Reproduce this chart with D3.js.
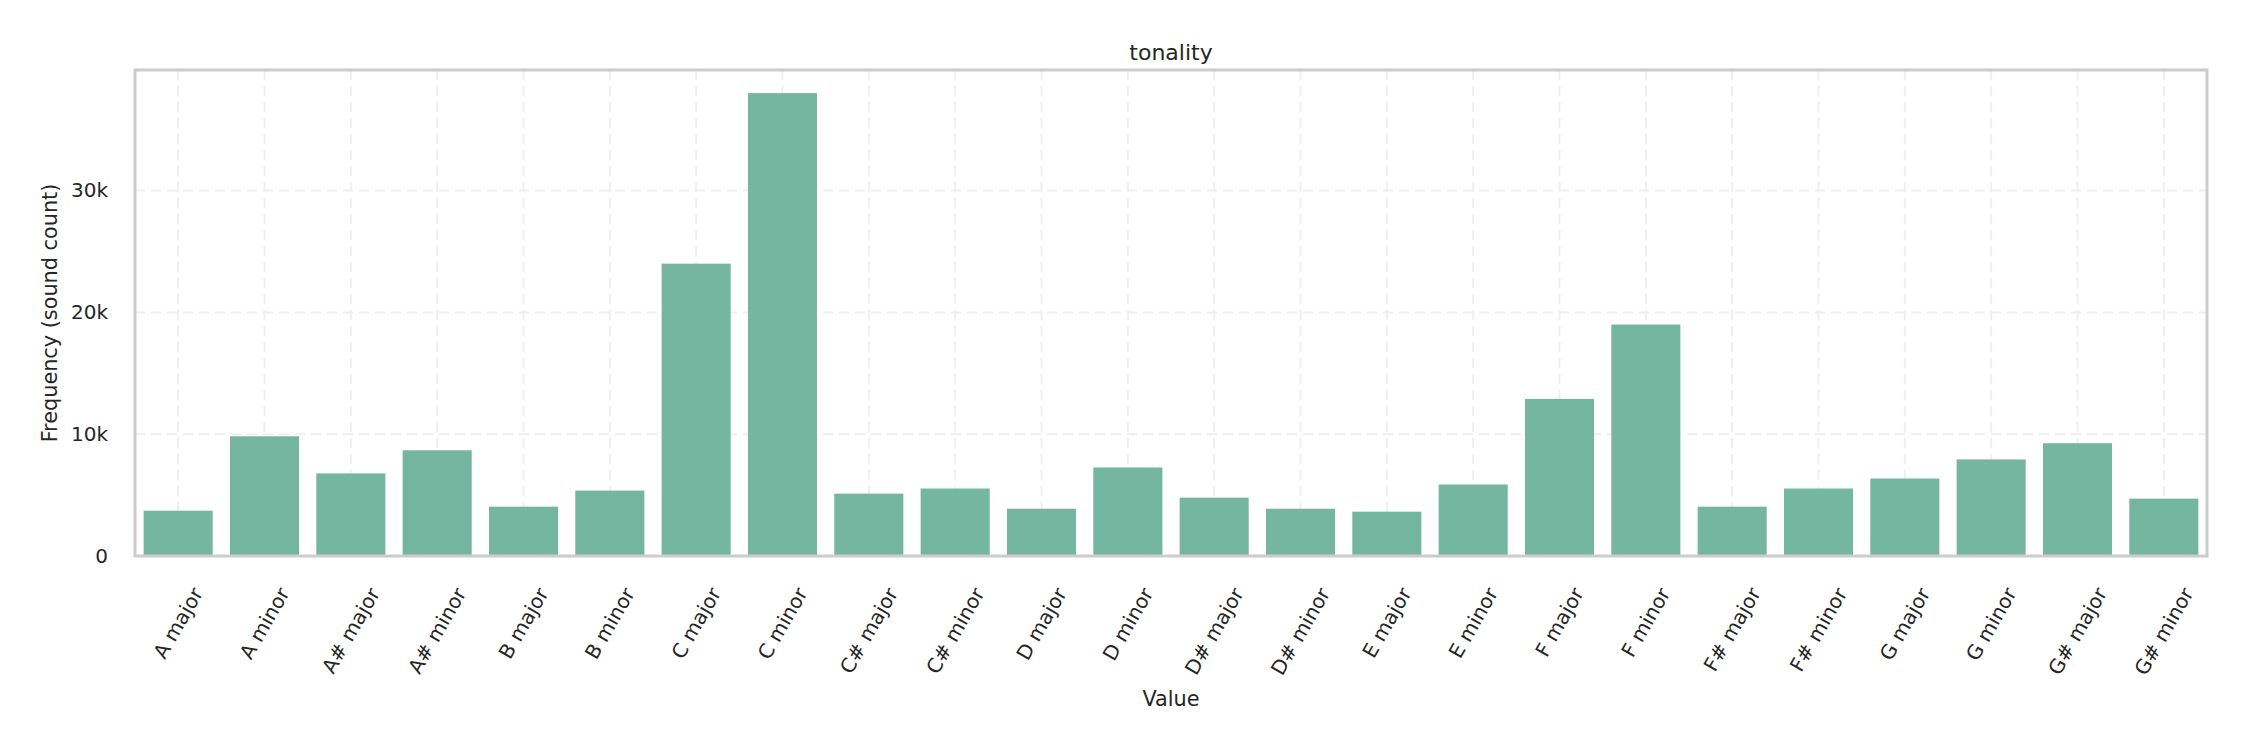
<!DOCTYPE html>
<html>
<head>
<meta charset="utf-8">
<script src="https://cdn.jsdelivr.net/npm/d3@7"></script>
<style>
  body { margin: 0; background: #fff; }
  text { font-family: 'DejaVu Sans', sans-serif; fill: #262626; }
</style>
</head>
<body>
<div class="canvas-bar"></div>
<script>
const categories = [
  'A major', 'A minor', 'A# major', 'A# minor', 'B major', 'B minor',
  'C major', 'C minor', 'C# major', 'C# minor', 'D major', 'D minor',
  'D# major', 'D# minor', 'E major', 'E minor', 'F major', 'F minor',
  'F# major', 'F# minor', 'G major', 'G minor', 'G# major', 'G# minor'
];
const counts = [
  3720, 9830, 6780, 8680, 4050, 5370,
  24000, 38000, 5120, 5540, 3880, 7270,
  4790, 3880, 3640, 5870, 12900, 19000,
  4050, 5540, 6360, 7930, 9260, 4710
];
const yTicks = [0, 10000, 20000, 30000];
const yTickLabels = ['0', '10k', '20k', '30k'];

const margin = { top: 70, right: 43, bottom: 194, left: 135 };
const graphWidth = 2250 - margin.left - margin.right;
const graphHeight = 750 - margin.top - margin.bottom;
const barColor = '#75b6a1';
const gridColor = '#efefef';
const frameColor = '#cccccc';

const data = categories.map((c, i) => ({ key: c, value: counts[i] }));

const svg = d3
  .select('.canvas-bar')
  .append('svg')
  .attr('width', 2250)
  .attr('height', 750);

const graph = svg.append('g').attr('transform', `translate(${margin.left}, ${margin.top})`);

const x = d3.scaleBand().domain(categories).range([0, graphWidth]).paddingInner(0.2).paddingOuter(0.1);
const y = d3.scaleLinear().domain([0, d3.max(counts) * 1.05]).range([graphHeight, 0]);

// grid (behind bars)
graph
  .append('g')
  .selectAll('line.vgrid')
  .data(categories)
  .enter()
  .append('line')
  .attr('x1', d => x(d) + x.bandwidth() / 2)
  .attr('x2', d => x(d) + x.bandwidth() / 2)
  .attr('y1', 0)
  .attr('y2', graphHeight)
  .attr('stroke', gridColor)
  .attr('stroke-width', 2)
  .attr('stroke-dasharray', '10,6');

graph
  .append('g')
  .selectAll('line.hgrid')
  .data(yTicks)
  .enter()
  .append('line')
  .attr('x1', 0)
  .attr('x2', graphWidth)
  .attr('y1', d => y(d))
  .attr('y2', d => y(d))
  .attr('stroke', gridColor)
  .attr('stroke-width', 2)
  .attr('stroke-dasharray', '10,6');

graph
  .selectAll('rect.bar')
  .data(data)
  .enter()
  .append('rect')
  .attr('class', 'bar')
  .attr('x', d => x(d.key))
  .attr('width', x.bandwidth())
  .attr('y', d => y(d.value))
  .attr('height', d => graphHeight - y(d.value))
  .attr('fill', barColor);

// frame
graph
  .append('rect')
  .attr('x', 0)
  .attr('y', 0)
  .attr('width', graphWidth)
  .attr('height', graphHeight)
  .attr('fill', 'none')
  .attr('stroke', frameColor)
  .attr('stroke-width', 3);

// y axis
const yAxis = d3
  .axisLeft(y)
  .tickValues(yTicks)
  .tickFormat((d, i) => yTickLabels[i])
  .tickSize(0)
  .tickPadding(27);

const yAxisGroup = graph.append('g').call(yAxis);
yAxisGroup.select('.domain').remove();
yAxisGroup.selectAll('text').style('font-size', '20px').attr('fill', '#262626');

// x axis, labels rotated 60deg and centred under each bar
const xAxisGroup = graph.append('g').attr('transform', `translate(0, ${graphHeight})`);
const fontSize = 20;
const sin60 = Math.sin(Math.PI / 3);
const cos60 = Math.cos(Math.PI / 3);

xAxisGroup
  .selectAll('text')
  .data(categories)
  .enter()
  .append('text')
  .style('font-size', fontSize + 'px')
  .attr('text-anchor', 'middle')
  .attr('dominant-baseline', 'central')
  .text(d => d)
  .each(function(d) {
    const len = this.getComputedTextLength();
    const boxH = len * sin60 + fontSize * 1.1 * cos60;
    const cx = x(d) + x.bandwidth() / 2;
    const cy = 28 + boxH / 2;
    d3.select(this).attr('x', cx).attr('y', cy).attr('transform', `rotate(-60, ${cx}, ${cy})`);
  });

// labels
svg
  .append('text')
  .attr('x', margin.left + graphWidth / 2)
  .attr('y', 60)
  .attr('text-anchor', 'middle')
  .style('font-size', '22px')
  .text('tonality');

svg
  .append('text')
  .attr('x', margin.left + graphWidth / 2)
  .attr('y', 706)
  .attr('text-anchor', 'middle')
  .style('font-size', '20.8px')
  .text('Value');

svg
  .append('text')
  .attr('transform', `translate(57, ${margin.top + graphHeight / 2}) rotate(-90)`)
  .attr('text-anchor', 'middle')
  .style('font-size', '20.8px')
  .text('Frequency (sound count)');
</script>
</body>
</html>
